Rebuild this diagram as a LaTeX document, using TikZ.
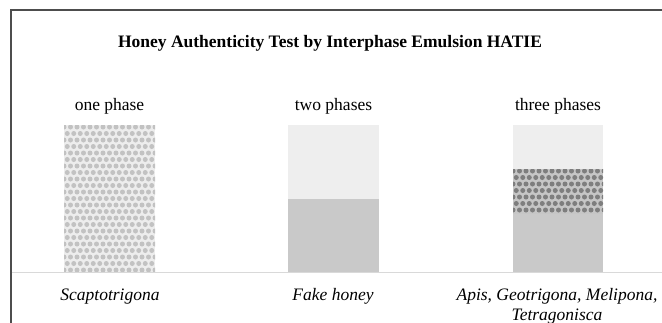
\documentclass[tikz,border=0pt]{standalone}
\usepackage{fontspec}
\setmainfont{Liberation Serif}
\definecolor{framec}{HTML}{4D4D4D}
\definecolor{basec}{HTML}{D9D9D9}
\definecolor{lightc}{HTML}{EEEEEE}
\definecolor{midc}{HTML}{C9C9C9}
\definecolor{patbgA}{HTML}{EDEDED}
\definecolor{patdotA}{HTML}{C2C2C2}
\definecolor{patbgB}{HTML}{C6C6C6}
\definecolor{patdotB}{HTML}{7E7E7E}
\begin{document}
\begin{tikzpicture}[x=1pt,y=-1pt,
  lbl/.style={font=\fontsize{17.5}{20}\selectfont, inner sep=0pt, anchor=base},
  ilbl/.style={lbl, font=\fontsize{17.5}{20}\selectfont\itshape},
  ttl/.style={lbl, font=\fontsize{17.5}{20}\selectfont\bfseries},
  frameline/.style={draw=framec, line width=1.6pt},
  baseline/.style={draw=basec, line width=0.9pt}]
\useasboundingbox (0,0) rectangle (662,322);
\fill[white] (0,0) rectangle (662,322);
\draw[frameline] (11,323) -- (11,10) -- (663,10);
% title and phase labels
\node[ttl] (title) at (330,47) {Honey Authenticity Test by Interphase Emulsion HATIE};
\node[lbl] (l1) at (109.5,110) {one phase};
\node[lbl] (l2) at (333.5,110) {two phases};
\node[lbl] (l3) at (558,110) {three phases};
% bar 1: patterned
\begin{scope}
  \clip (64,125) rectangle (155,272);
  \fill[patbgA] (64,125) rectangle (155,272);
  \foreach \j in {0,...,23} {
    \foreach \i in {0,...,15} {
      \pgfmathsetmacro\xx{64+6.5*\i+mod(\j,2)*3.25}
      \pgfmathsetmacro\yy{127+6.5*\j}
      \fill[patdotA] (\xx,\yy) circle (2.5pt);
    }
  }
\end{scope}
% bar 2
\fill[lightc] (288,125) rectangle (379,199);
\fill[midc] (288,199) rectangle (379,272);
% bar 3
\fill[lightc] (513,125) rectangle (603,169);
\begin{scope}
  \clip (513,169) rectangle (603,214);
  \fill[patbgB] (513,169) rectangle (603,214);
  \foreach \j in {0,...,7} {
    \foreach \i in {0,...,15} {
      \pgfmathsetmacro\xx{513+6.5*\i+mod(\j,2)*3.25}
      \pgfmathsetmacro\yy{171+6.5*\j}
      \fill[patdotB] (\xx,\yy) circle (2.5pt);
    }
  }
\end{scope}
\fill[midc] (513,214) rectangle (603,272);
% baseline
\draw[baseline] (12,272) -- (663,272);
% category labels
\node[ilbl] (c1) at (110,300) {Scaptotrigona};
\node[ilbl] (c2) at (333,300) {Fake honey};
\node[ilbl] (c3) at (557,300) {Apis, Geotrigona, Melipona,};
\node[ilbl] (c3b) at (557,320) {Tetragonisca};
\end{tikzpicture}
\end{document}
